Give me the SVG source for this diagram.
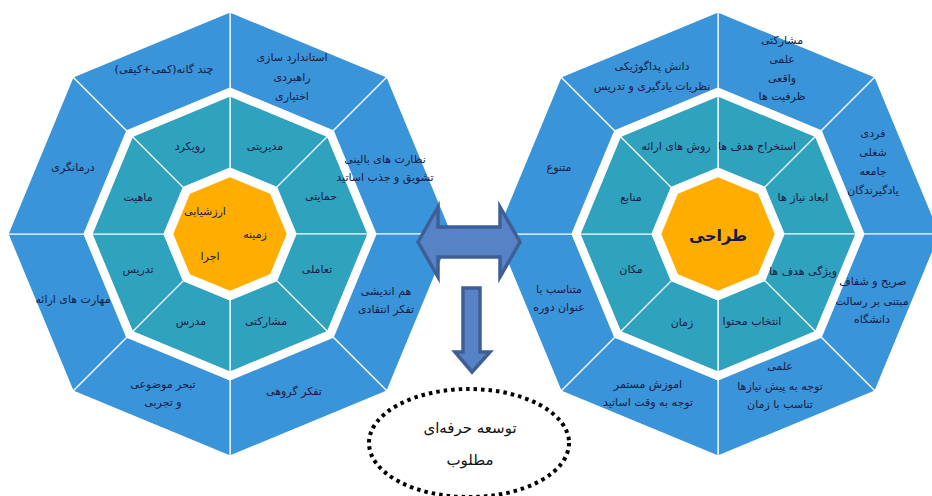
<svg xmlns="http://www.w3.org/2000/svg" xmlns:xlink="http://www.w3.org/1999/xlink" width="932" height="496" viewBox="0 0 932 496">
<style>
.o{fill:#3a94d9;stroke:#ffffff;stroke-width:1.2}
.m{fill:#2fa2bd;stroke:#ffffff;stroke-width:1.2}
.c{fill:#ffad00;stroke:#ffffff;stroke-width:6}
text{font-family:"DejaVu Sans",sans-serif;font-size:11px;fill:#161b45;text-anchor:middle;direction:rtl;dominant-baseline:middle}
.b{font-size:16px;font-weight:bold}
.e{font-size:15px;font-family:"DejaVu Sans",serif;fill:#111}
.arr{fill:#5583c6;stroke:#3d5f96;stroke-width:3.5;stroke-linejoin:miter}
</style>
<defs>
<polygon id="oseg" points="0,-222 157,-157 103.2,-103.2 0,-146"/>
<polygon id="mseg" points="0,-138 97.6,-97.6 46.7,-46.7 0,-66"/>
<polygon id="core" points="0,-60 42.4,-42.4 60,0 42.4,42.4 0,60 -42.4,42.4 -60,0 -42.4,-42.4"/>
</defs>

<g id="left-octagon">
<g id="L-o0"><use xlink:href="#oseg" class="o" transform="translate(230,234)"/></g>
<g id="L-o1"><use xlink:href="#oseg" class="o" transform="translate(230,234) rotate(45)"/></g>
<g id="L-o2"><use xlink:href="#oseg" class="o" transform="translate(230,234) rotate(90)"/></g>
<g id="L-o3"><use xlink:href="#oseg" class="o" transform="translate(230,234) rotate(135)"/></g>
<g id="L-o4"><use xlink:href="#oseg" class="o" transform="translate(230,234) rotate(180)"/></g>
<g id="L-o5"><use xlink:href="#oseg" class="o" transform="translate(230,234) rotate(225)"/></g>
<g id="L-o6"><use xlink:href="#oseg" class="o" transform="translate(230,234) rotate(270)"/></g>
<g id="L-o7"><use xlink:href="#oseg" class="o" transform="translate(230,234) rotate(315)"/></g>
<g id="L-m0"><use xlink:href="#mseg" class="m" transform="translate(230,234)"/></g>
<g id="L-m1"><use xlink:href="#mseg" class="m" transform="translate(230,234) rotate(45)"/></g>
<g id="L-m2"><use xlink:href="#mseg" class="m" transform="translate(230,234) rotate(90)"/></g>
<g id="L-m3"><use xlink:href="#mseg" class="m" transform="translate(230,234) rotate(135)"/></g>
<g id="L-m4"><use xlink:href="#mseg" class="m" transform="translate(230,234) rotate(180)"/></g>
<g id="L-m5"><use xlink:href="#mseg" class="m" transform="translate(230,234) rotate(225)"/></g>
<g id="L-m6"><use xlink:href="#mseg" class="m" transform="translate(230,234) rotate(270)"/></g>
<g id="L-m7"><use xlink:href="#mseg" class="m" transform="translate(230,234) rotate(315)"/></g>
<g id="L-core"><use xlink:href="#core" class="c" transform="translate(230,234)"/></g>
</g>

<g id="right-octagon">
<g id="R-o0"><use xlink:href="#oseg" class="o" transform="translate(718,234)"/></g>
<g id="R-o1"><use xlink:href="#oseg" class="o" transform="translate(718,234) rotate(45)"/></g>
<g id="R-o2"><use xlink:href="#oseg" class="o" transform="translate(718,234) rotate(90)"/></g>
<g id="R-o3"><use xlink:href="#oseg" class="o" transform="translate(718,234) rotate(135)"/></g>
<g id="R-o4"><use xlink:href="#oseg" class="o" transform="translate(718,234) rotate(180)"/></g>
<g id="R-o5"><use xlink:href="#oseg" class="o" transform="translate(718,234) rotate(225)"/></g>
<g id="R-o6"><use xlink:href="#oseg" class="o" transform="translate(718,234) rotate(270)"/></g>
<g id="R-o7"><use xlink:href="#oseg" class="o" transform="translate(718,234) rotate(315)"/></g>
<g id="R-m0"><use xlink:href="#mseg" class="m" transform="translate(718,234)"/></g>
<g id="R-m1"><use xlink:href="#mseg" class="m" transform="translate(718,234) rotate(45)"/></g>
<g id="R-m2"><use xlink:href="#mseg" class="m" transform="translate(718,234) rotate(90)"/></g>
<g id="R-m3"><use xlink:href="#mseg" class="m" transform="translate(718,234) rotate(135)"/></g>
<g id="R-m4"><use xlink:href="#mseg" class="m" transform="translate(718,234) rotate(180)"/></g>
<g id="R-m5"><use xlink:href="#mseg" class="m" transform="translate(718,234) rotate(225)"/></g>
<g id="R-m6"><use xlink:href="#mseg" class="m" transform="translate(718,234) rotate(270)"/></g>
<g id="R-m7"><use xlink:href="#mseg" class="m" transform="translate(718,234) rotate(315)"/></g>
<g id="R-core"><use xlink:href="#core" class="c" transform="translate(718,234)"/></g>
</g>

<g id="labels">
<g id="L-o0-label"><text x="292" y="58">استاندارد سازی</text><text x="292" y="78">راهبردی</text><text x="292" y="97">اختیاری</text></g>
<g id="L-o1-label"><text x="385" y="160">نظارت های بالینی</text><text x="385" y="178">تشویق و جذب اساتید</text></g>
<g id="L-o2-label"><text x="386" y="292">هم اندیشی</text><text x="386" y="310">تفکر انتقادی</text></g>
<g id="L-o3-label"><text x="294" y="392">تفکر گروهی</text></g>
<g id="L-o4-label"><text x="163" y="385">تبحر موضوعی</text><text x="163" y="403">و تجربی</text></g>
<g id="L-o5-label"><text x="73" y="300">مهارت های ارائه</text></g>
<g id="L-o6-label"><text x="73" y="168">درمانگری</text></g>
<g id="L-o7-label"><text x="164" y="70">چند گانه(کمی+کیفی)</text></g>
<g id="L-m0-label"><text x="265" y="147">مدیریتی</text></g>
<g id="L-m1-label"><text x="321" y="197">حمایتی</text></g>
<g id="L-m2-label"><text x="317" y="270">تعاملی</text></g>
<g id="L-m3-label"><text x="266" y="322">مشارکتی</text></g>
<g id="L-m4-label"><text x="191" y="322">مدرس</text></g>
<g id="L-m5-label"><text x="138" y="270">تدریس</text></g>
<g id="L-m6-label"><text x="138" y="198">ماهیت</text></g>
<g id="L-m7-label"><text x="190" y="147">رویکرد</text></g>
<g id="L-core-label"><text x="205" y="212">ارزشیابی</text><text x="255" y="235">زمینه</text><text x="210" y="257">اجرا</text></g>

<g id="R-o0-label"><text x="782" y="41">مشارکتی</text><text x="782" y="60">علمی</text><text x="782" y="79">واقعی</text><text x="782" y="97">ظرفیت ها</text></g>
<g id="R-o1-label"><text x="873" y="134">فردی</text><text x="873" y="153">شغلی</text><text x="873" y="172">جامعه</text><text x="873" y="191">یادگیرندگان</text></g>
<g id="R-o2-label"><text x="873" y="282">صریح و شفاف</text><text x="872" y="302">مبتنی بر رسالت</text><text x="872" y="320">دانشگاه</text></g>
<g id="R-o3-label"><text x="780" y="367">علمی</text><text x="780" y="387">توجه به پیش نیازها</text><text x="780" y="405">تناسب با زمان</text></g>
<g id="R-o4-label"><text x="648" y="385">اموزش مستمر</text><text x="648" y="403">توجه به وقت اساتید</text></g>
<g id="R-o5-label"><text x="559" y="290">متناسب با</text><text x="559" y="308">عنوان دوره</text></g>
<g id="R-o6-label"><text x="559" y="168">متنوع</text></g>
<g id="R-o7-label"><text x="652" y="67">دانش پداگوژیکی</text><text x="652" y="87">نظریات یادگیری و تدریس</text></g>
<g id="R-m0-label"><text x="757" y="147">استخراج هدف ها</text></g>
<g id="R-m1-label"><text x="803" y="198">ابعاد نیاز ها</text></g>
<g id="R-m2-label"><text x="803" y="272">ویژگی هدف ها</text></g>
<g id="R-m3-label"><text x="752" y="322">انتخاب محتوا</text></g>
<g id="R-m4-label"><text x="682" y="323">زمان</text></g>
<g id="R-m5-label"><text x="631" y="270">مکان</text></g>
<g id="R-m6-label"><text x="631" y="198">منابع</text></g>
<g id="R-m7-label"><text x="676" y="147">روش های ارائه</text></g>
<g id="R-core-label"><text class="b" x="718" y="236">طراحی</text></g>
</g>

<g id="connectors">
<polygon class="arr" points="418,242 438,207 438,227 500,227 500,207 520,242 500,277 500,257 438,257 438,277"/>
<polygon class="arr" points="463,288 480,288 480,352 490,352 472,372 455,352 463,352"/>
</g>

<g id="goal">
<ellipse cx="469" cy="443" rx="100" ry="54" fill="#ffffff" stroke="#000" stroke-width="4" stroke-dasharray="3.5 4"/>
<text class="e" x="470" y="428">توسعه حرفه‌ای</text>
<text class="e" x="470" y="460">مطلوب</text>
</g>
</svg>
